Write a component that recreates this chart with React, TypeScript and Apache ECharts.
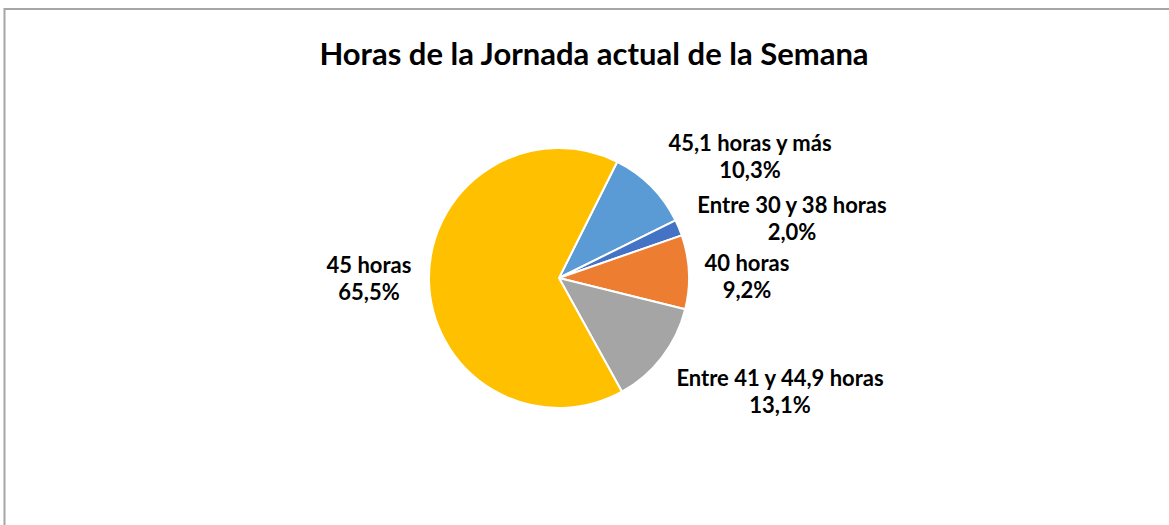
import React, { useEffect, useRef } from "react";
import * as echarts from "echarts";

const categories = [
  "45,1 horas y más",
  "Entre 30 y 38 horas",
  "40 horas",
  "Entre 41 y 44,9 horas",
  "45 horas",
];
const percentValues = [10.3, 2.0, 9.2, 13.1, 65.5];
const sliceColors = ["#5B9BD5", "#4472C4", "#ED7D31", "#A5A5A5", "#FFC000"];
const titleText = "Horas de la Jornada actual de la Semana";

// label anchor positions (layout only)
const labelAnchors = [
  [750, 156],
  [792, 218],
  [747, 276],
  [780, 391],
  [369, 278],
];

export default function App() {
  const ref = useRef<HTMLDivElement>(null);
  useEffect(() => {
    const chart = echarts.init(ref.current!, null, { renderer: "svg" });
    const font = "Lato, 'Open Sans', sans-serif";
    chart.setOption({
      animation: false,
      backgroundColor: "#ffffff",
      title: {
        text: titleText,
        left: 589,
        top: 32,
        textAlign: "center",
        textStyle: { fontFamily: font, fontWeight: "bold", fontSize: 31, color: "#000" },
      },
      graphic: [
        {
          type: "rect",
          shape: { x: 4.5, y: 9, width: 1200, height: 600 },
          style: { fill: "none", stroke: "#a6a6a6", lineWidth: 2 },
          silent: true,
        },
      ],
      series: [
        {
          type: "pie",
          center: [559, 278],
          radius: 130,
          startAngle: 63.4,
          clockwise: true,
          avoidLabelOverlap: false,
          itemStyle: { borderColor: "#ffffff", borderWidth: 2 },
          label: {
            show: true,
            position: "outside",
            formatter: (p: any) => `${p.name}\n${p.value.toFixed(1).replace(".", ",")}%`,
            fontFamily: font,
            fontWeight: "bold",
            fontSize: 22,
            lineHeight: 27,
            color: "#000",
            align: "center",
          },
          labelLine: { show: false },
          labelLayout: (params: any) => {
            const a = labelAnchors[params.dataIndex];
            return { x: a[0], y: a[1], align: "center", verticalAlign: "middle" };
          },
          data: categories.map((c, i) => ({
            name: c,
            value: percentValues[i],
            itemStyle: { color: sliceColors[i] },
          })),
        },
      ],
    });
    return () => chart.dispose();
  }, []);
  return (
    <div
      ref={ref}
      style={{ position: "absolute", left: 0, top: 0, width: 1169, height: 525 }}
    />
  );
}
